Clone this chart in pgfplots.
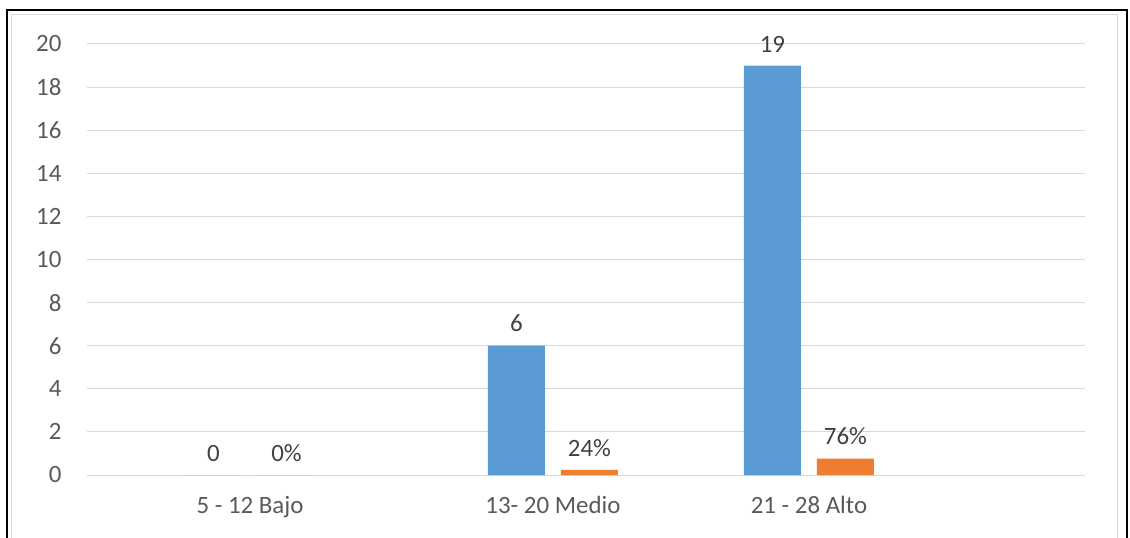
\documentclass[border=0pt]{standalone}
\usepackage{pgfplots}
\pgfplotsset{compat=1.18}
\usepackage{fontspec}
\setmainfont{Carlito}
\definecolor{xblue}{HTML}{5B9BD5}
\definecolor{xorange}{HTML}{ED7D31}
\definecolor{xgrid}{HTML}{D9D9D9}
\definecolor{xtext}{HTML}{595959}
\definecolor{xlab}{HTML}{404040}
\begin{document}
\begin{tikzpicture}
\path[use as bounding box] (-87bp,-63bp) rectangle (1043bp,475bp);
\draw[xgrid, line width=1bp] (-75bp,-70bp) -- (-75bp,460bp) -- (1030bp,460bp) -- (1030bp,-70bp);
\draw[black, line width=2.5bp] (-80bp,-70bp) -- (-80bp,465bp) -- (1040bp,465bp) -- (1040bp,-70bp);
\begin{axis}[
  at={(0,0)}, anchor=south west,
  scale only axis, width=998bp, height=431bp,
  xmin=-0.538, xmax=2.756, ymin=0, ymax=20,
  axis line style={draw=none},
  ybar=16bp, bar width=57bp,
  ytick={0,2,...,20},
  xtick={0,1,1.845},
  xticklabels={5 - 12 Bajo, 13- 20 Medio, 21 - 28 Alto},
  ymajorgrids, grid style={xgrid, line width=1bp},
  major tick length=0pt,
  tick style={draw=none},
  tick label style={font=\fontsize{25}{29}\selectfont, text=xtext},
  /pgf/number format/assume math mode=true,
  xticklabel style={yshift=-18bp},
  yticklabel style={xshift=-22bp},
  nodes near coords style={font=\fontsize{25}{29}\selectfont, text=xlab, anchor=south, yshift=10bp},
  clip=false,
]
\addplot[fill=xblue, draw=none, nodes near coords] table[x=x, y=y] {
x y
0 0
1 6
1.845 19
};
\addplot[fill=xorange, draw=none, nodes near coords, point meta=explicit symbolic] table[x=x, y=y, meta=lab] {
x y lab
0 0 0\%
1 0.24 24\%
1.845 0.76 76\%
};
\end{axis}
\end{tikzpicture}
\end{document}
